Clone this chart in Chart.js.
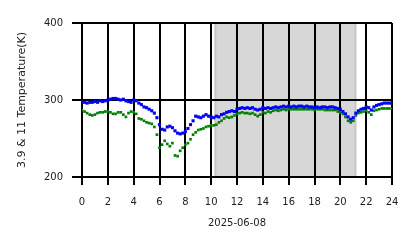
<!DOCTYPE html>
<html><head><meta charset="utf-8">
<script src="https://cdn.jsdelivr.net/npm/chart.js@4/dist/chart.umd.min.js"></script>
<style>html,body{margin:0;padding:0;background:#fff}#wrap{width:418px;height:248px}</style>
</head><body><div id="wrap"><canvas id="c" width="418" height="248"></canvas></div>
<script>
const xTicks = [0,2,4,6,8,10,12,14,16,18,20,22,24];
const yTicks = [200,300,400];
const xTitle = "2025-06-08";
const yTitle = "3.9 & 11 Temperature(K)";
const shadeStart = 10.25, shadeEnd = 21.25;
const sampleStepHours = 0.2;
const temp39 = [297,297,296,297,297,298,297,299,298,299,300,301,302,302,301,300,301,299,298,297,
300,299,296,294,291,290,288,286,283,277,268,262,261,265,266,264,260,257,256,257,
259,263,268,273,279,278,277,279,281,279,278,277,279,278,281,282,284,285,286,285,
288,289,290,289,290,289,290,288,287,288,290,289,290,289,290,291,290,291,292,291,
292,291,292,291,292,292,291,292,291,291,290,291,290,291,291,290,291,291,290,289,
288,285,282,278,275,277,283,286,288,289,291,290,287,291,293,294,295,296,296,296,296];
const temp11 = [287,285,283,281,280,281,283,284,284,285,285,284,282,282,284,284,281,278,283,285,
284,282,276,275,273,271,270,269,265,255,238,242,247,243,240,244,228,227,234,238,
242,244,249,255,258,261,262,263,265,266,267,267,268,271,273,276,278,277,278,280,
282,283,284,283,283,282,283,281,279,281,284,283,285,284,286,287,286,287,288,287,
288,288,288,288,288,288,288,288,288,288,287,288,288,288,287,287,287,287,287,285,
284,282,278,273,271,273,280,283,284,285,286,284,281,286,287,288,289,289,289,289,289];
const hours = temp39.map((_, i) => +(i * sampleStepHours).toFixed(2));

const shadePlugin = {
  id: 'shade',
  beforeDraw(chart) {
    const {ctx, chartArea, scales} = chart;
    const x0 = scales.x.getPixelForValue(shadeStart);
    const x1 = scales.x.getPixelForValue(shadeEnd);
    ctx.save();
    ctx.fillStyle = 'rgba(150,150,150,0.38)';
    ctx.fillRect(x0, chartArea.top, x1 - x0, chartArea.bottom - chartArea.top);
    ctx.fillStyle = 'rgba(150,150,150,0.25)';
    ctx.fillRect(x0, chartArea.top, 2, chartArea.bottom - chartArea.top);
    ctx.fillRect(x1 - 2, chartArea.top, 2, chartArea.bottom - chartArea.top);
    ctx.restore();
  }
};

const tickFont = {family: 'DejaVu Sans', size: 10};
const titleFont = {family: 'DejaVu Sans', size: 11};
new Chart(document.getElementById('c'), {
  type: 'scatter',
  data: {
    datasets: [
      {label: '3.9', data: hours.map((h, i) => ({x: h, y: temp39[i]})), pointStyle: 'rect',
       pointRadius: 2.2, backgroundColor: '#0000ff', borderWidth: 0},
      {label: '11', data: hours.map((h, i) => ({x: h, y: temp11[i]})), pointStyle: 'rect',
       pointRadius: 1.9, backgroundColor: '#008000', borderWidth: 0}
    ]
  },
  options: {
    responsive: false, animation: false, devicePixelRatio: 1,
    layout: {padding: {left: 0, right: 26, top: 23, bottom: 0}},
    plugins: {legend: {display: false}, tooltip: {enabled: false}},
    scales: {
      x: {
        type: 'linear', min: 0, max: 24,
        afterBuildTicks(ax) { ax.ticks = xTicks.map(v => ({value: v})); },
        afterFit(ax) { ax.height = 71; },
        grid: {color: '#000', lineWidth: 2, tickLength: 8, tickColor: '#000', tickWidth: 2},
        border: {display: false},
        ticks: {color: '#222', font: tickFont, padding: 11, maxRotation: 0},
        title: {display: true, text: xTitle, color: '#222', font: tickFont, padding: {top: 4, bottom: 19}}
      },
      y: {
        min: 200, max: 400,
        afterBuildTicks(ax) { ax.ticks = yTicks.map(v => ({value: v})); },
        afterFit(ax) { ax.width = 82; },
        grid: {color: '#000', lineWidth: 2, tickLength: 10, tickColor: '#000', tickWidth: 2},
        border: {display: false},
        ticks: {color: '#222', font: tickFont, padding: 9},
        title: {display: true, text: yTitle, color: '#222', font: titleFont, padding: {top: 16, bottom: 8}}
      }
    }
  },
  plugins: [shadePlugin]
});
</script></body></html>
